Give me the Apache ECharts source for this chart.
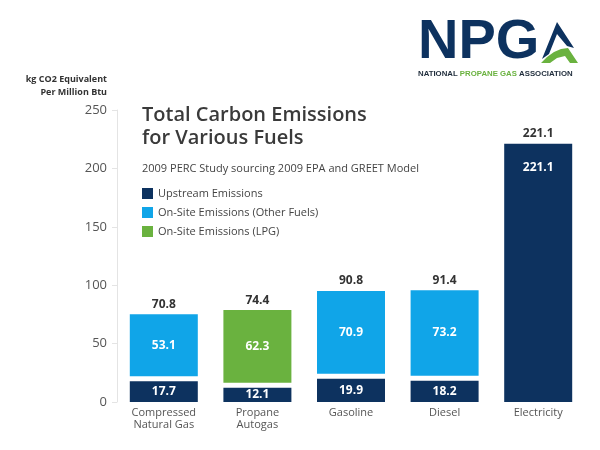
<!DOCTYPE html>
<html>
<head>
<meta charset="utf-8">
<script src="https://cdn.jsdelivr.net/npm/echarts@6/dist/echarts.min.js"></script>
<style>html,body{margin:0;padding:0;background:#fff}#c{width:600px;height:450px}</style>
</head>
<body>
<div id="c"></div>
<script>
const categories = ['Compressed\nNatural Gas', 'Propane\nAutogas', 'Gasoline', 'Diesel', 'Electricity'];
const upstream = [17.7, 12.1, 19.9, 18.2, 221.1];
const onsiteOther = [53.1, null, 70.9, 73.2, null];
const onsiteLPG = [null, 62.3, null, null, null];
const totals = [70.8, 74.4, 90.8, 91.4, 221.1];
const yTicks = [0, 50, 100, 150, 200, 250];

const NAVY = '#0D325F', BLUE = '#10A5E8', GREEN = '#6AB23F';
const FONT = 'Open Sans';
const BAR_W = 68, GAP = 5;

const chart = echarts.init(document.getElementById('c'), null, {renderer: 'canvas'});

function hasOnsite(i) { return onsiteOther[i] != null || onsiteLPG[i] != null; }

function segRender(params, api) {
  const i = api.value(0), base = api.value(1), val = api.value(2);
  const lift = base > 0 ? GAP : 0;
  const p0 = api.coord([i, base]);
  const p1 = api.coord([i, base + val]);
  const x = p0[0] - BAR_W / 2;
  const yTop = p1[1] - lift;
  const h = p0[1] - p1[1];
  const alone = base === 0 && !hasOnsite(i);
  return {
    type: 'group',
    children: [
      {type: 'rect', shape: {x: x, y: yTop, width: BAR_W, height: h}, style: {fill: api.visual('color')}},
      {type: 'text', style: {
        text: String(val), x: p0[0], y: alone ? yTop + 24 : yTop + h / 2,
        fill: '#fff', font: 'bold 12px "Open Sans"', align: 'center', verticalAlign: 'middle'}}
    ]
  };
}

function totalRender(params, api) {
  const i = api.value(0), v = api.value(1);
  const p = api.coord([i, v]);
  const lift = hasOnsite(i) ? GAP : 0;
  return {type: 'text', style: {
    text: String(v), x: p[0], y: p[1] - lift - 10,
    fill: '#333', font: 'bold 12px "Open Sans"', align: 'center', verticalAlign: 'middle'}};
}

const upData = upstream.map((v, i) => [i, 0, v]);
const otherData = onsiteOther.map((v, i) => v == null ? null : [i, upstream[i], v]).filter(d => d);
const lpgData = onsiteLPG.map((v, i) => v == null ? null : [i, upstream[i], v]).filter(d => d);
const totalData = totals.map((v, i) => [i, v]);

chart.setOption({
  animation: false,
  backgroundColor: '#ffffff',
  textStyle: {fontFamily: FONT},
  title: {
    text: 'Total Carbon Emissions\nfor Various Fuels',
    subtext: '2009 PERC Study sourcing 2009 EPA and GREET Model',
    left: 142, top: 104, itemGap: 12, padding: 0,
    textStyle: {fontSize: 20, fontWeight: 600, color: '#3a3a3a', lineHeight: 23, fontFamily: FONT},
    subtextStyle: {fontSize: 11, color: '#444', lineHeight: 14, fontFamily: FONT}
  },
  legend: {
    data: ['Upstream Emissions', 'On-Site Emissions (Other Fuels)', 'On-Site Emissions (LPG)'],
    orient: 'vertical', left: 142, top: 188, padding: 0,
    itemWidth: 11, itemHeight: 11, itemGap: 8, icon: 'rect',
    textStyle: {fontSize: 11, color: '#444', fontFamily: FONT}
  },
  grid: {left: 117, right: 15, top: 110, bottom: 48},
  xAxis: {
    type: 'category', data: categories,
    axisLine: {show: false}, axisTick: {show: false},
    axisLabel: {color: '#555', fontSize: 11, lineHeight: 12, margin: 5, fontFamily: FONT}
  },
  yAxis: {
    type: 'value', min: 0, max: 250, interval: 50,
    axisLine: {show: true, lineStyle: {color: '#e4e4e4'}},
    axisTick: {show: true, length: 5, lineStyle: {color: '#e4e4e4'}},
    splitLine: {show: false},
    axisLabel: {color: '#555', fontSize: 13, margin: 10, fontFamily: FONT, customValues: yTicks}
  },
  series: [
    {name: 'Upstream Emissions', type: 'custom', itemStyle: {color: NAVY},
      encode: {x: 0, y: [1, 2]}, renderItem: segRender, data: upData},
    {name: 'On-Site Emissions (Other Fuels)', type: 'custom', itemStyle: {color: BLUE},
      encode: {x: 0, y: [1, 2]}, renderItem: segRender, data: otherData},
    {name: 'On-Site Emissions (LPG)', type: 'custom', itemStyle: {color: GREEN},
      encode: {x: 0, y: [1, 2]}, renderItem: segRender, data: lpgData},
    {name: 'Total', type: 'custom', silent: true,
      encode: {x: 0, y: 1}, renderItem: totalRender, data: totalData}
  ],
  graphic: [
    {type: 'text', x: 107, y: 79, style: {text: 'kg CO2 Equivalent', fill: '#333', font: 'bold 9px "Open Sans"', align: 'right', verticalAlign: 'middle'}},
    {type: 'text', x: 107, y: 92, style: {text: 'Per Million Btu', fill: '#333', font: 'bold 9px "Open Sans"', align: 'right', verticalAlign: 'middle'}},
    {type: 'text', x: 418, y: 43, style: {text: 'NPG', fill: NAVY, font: 'bold 56px "Liberation Sans"', align: 'left', verticalAlign: 'middle'}},
    {type: 'polygon', shape: {points: [[557,22],[574,48],[567,46],[557,34],[549,54],[542,59]]}, style: {fill: NAVY}},
    {type: 'polygon', shape: {points: [[541,63],[547,57],[554,52],[561,49],[568,48],[578,63],[570,63],[565,56],[557,58],[550,63]]}, style: {fill: GREEN}},
    {type: 'text', x: 418, y: 74, style: {
      text: '{n|NATIONAL }{g|PROPANE GAS }{n|ASSOCIATION}', verticalAlign: 'middle',
      rich: {n: {fill: '#1e2b3a', fontSize: 7.8, fontWeight: 'bold', fontFamily: 'Liberation Sans'},
             g: {fill: GREEN, fontSize: 7.8, fontWeight: 'bold', fontFamily: 'Liberation Sans'}}
    }}
  ]
});
</script>
</body>
</html>
